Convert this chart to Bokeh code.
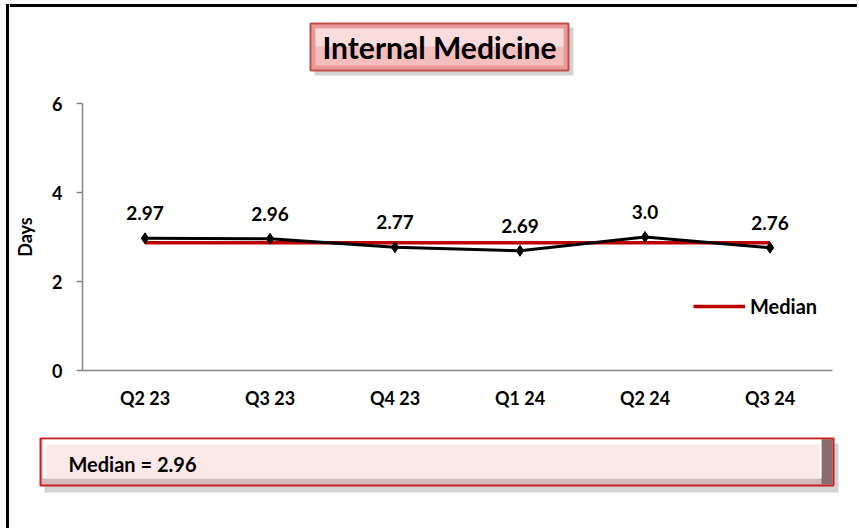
from bokeh.plotting import figure
from bokeh.layouts import row, column
from bokeh.models import (ColumnDataSource, LabelSet, Label, BoxAnnotation, Legend,
                          LegendItem, FixedTicker, Range1d)
from bokeh.core.properties import value
from bokeh.embed import file_html
from bokeh.resources import INLINE

quarters = ["Q2 23", "Q3 23", "Q4 23", "Q1 24", "Q2 24", "Q3 24"]
days = [2.97, 2.96, 2.77, 2.69, 3.0, 2.76]
day_labels = ["2.97", "2.96", "2.77", "2.69", "3.0", "2.76"]
median_line = [2.87, 2.87, 2.87, 2.87, 2.87, 2.87]
y_ticks = [0, 2, 4, 6]
title_text = "Internal Medicine"
median_text = "Median = 2.96"

FONT = "Lato"
W = 848


def blank(width, height):
    f = figure(width=width, height=height, x_range=Range1d(0, 1), y_range=Range1d(0, 1),
               output_backend="svg", toolbar_location=None, min_border=0,
               frame_align=False)
    f.axis.visible = False
    f.grid.visible = False
    f.outline_line_color = None
    f.background_fill_color = "white"
    f.border_fill_color = "white"
    return f


def sbox(left, right, top, bottom, **kw):
    # screen units: relative to the frame, x from its left, y up from its bottom
    kw.setdefault("line_alpha", 1)
    return BoxAnnotation(left=left, right=right, top=top, bottom=bottom,
                         left_units="screen", right_units="screen",
                         top_units="screen", bottom_units="screen", **kw)


# ---- left strip carrying the outer border line
strip = blank(9, 528)
strip.add_layout(sbox(5.5, 8.5, 524.5, 0, fill_color="black", fill_alpha=1, line_color=None))

# ---- title panel
tfig = blank(W, 90)
tfig.add_layout(sbox(0, W, 86.5, 83.5, fill_color="black", fill_alpha=1, line_color=None))
tfig.add_layout(sbox(305, 564, 63, 15, fill_color="#a8a8a8", fill_alpha=0.5, line_color=None))
tfig.add_layout(sbox(301, 559, 67, 20, fill_color="#E89A9A", fill_alpha=1,
                     line_color="#C0504D", line_width=2))
tfig.add_layout(sbox(306, 554, 62, 25, fill_color="#F4BEBE", fill_alpha=1, line_color=None))
tfig.add_layout(sbox(306, 554, 62, 44, fill_color="#FADCDC", fill_alpha=1, line_color=None))
tfig.add_layout(Label(x=430, y=44, x_units="screen", y_units="screen", text=title_text,
                      text_font=FONT, text_font_style="bold", text_font_size="30px",
                      text_align="center", text_baseline="middle", text_color="black"))

# ---- main chart
src = ColumnDataSource(dict(q=quarters, d=days, lab=day_labels, m=median_line))

p = figure(x_range=quarters, y_range=Range1d(0, 6), width=W, height=325,
           output_backend="svg", toolbar_location=None,
           min_border_left=73, min_border_right=25, min_border_top=13,
           min_border_bottom=45, frame_align=False)
p.outline_line_color = None
p.xgrid.grid_line_color = None
p.ygrid.grid_line_color = None
p.background_fill_color = "white"
p.border_fill_color = "white"

p.yaxis.ticker = FixedTicker(ticks=y_ticks)
p.yaxis.minor_tick_line_color = None
p.yaxis.major_tick_out = 6
p.yaxis.major_tick_in = 0
p.yaxis.axis_line_color = "#868686"
p.yaxis.axis_line_width = 1.5
p.yaxis.major_tick_line_color = "#868686"
p.yaxis.major_tick_line_width = 1.5
p.yaxis.major_label_standoff = 14
p.yaxis.major_label_text_font = FONT
p.yaxis.major_label_text_font_style = "bold"
p.yaxis.major_label_text_font_size = "18px"
p.yaxis.major_label_text_color = "black"
p.yaxis.axis_label = "Days"
p.yaxis.axis_label_text_font = FONT
p.yaxis.axis_label_text_font_style = "bold"
p.yaxis.axis_label_text_font_size = "18px"
p.yaxis.axis_label_text_color = "black"
p.yaxis.axis_label_standoff = 13

p.xaxis.major_tick_line_color = None
p.xaxis.major_tick_out = 0
p.xaxis.major_tick_in = 0
p.xaxis.minor_tick_line_color = None
p.xaxis.axis_line_color = "#868686"
p.xaxis.axis_line_width = 1.5
p.xaxis.major_label_standoff = 16
p.xaxis.major_label_text_font = FONT
p.xaxis.major_label_text_font_style = "bold"
p.xaxis.major_label_text_font_size = "18px"
p.xaxis.major_label_text_color = "black"

med = p.line("q", "m", source=src, line_color="#C00000", line_width=3.5)
p.line("q", "d", source=src, line_color="black", line_width=3)
p.scatter("q", "d", source=src, marker="diamond", size=11, color="black")

p.add_layout(LabelSet(x="q", y="d", text="lab", source=src, y_offset=18,
                      text_align="center", text_baseline="bottom",
                      text_font=value(FONT), text_font_style="bold",
                      text_font_size="19px", text_color="black"))

legend = Legend(items=[LegendItem(label="Median", renderers=[med])],
                location=(611, 52), glyph_width=52, glyph_height=20,
                label_standoff=5, padding=0, margin=0, spacing=0,
                border_line_color=None, background_fill_alpha=0,
                label_text_font=FONT, label_text_font_style="bold",
                label_text_font_size="20px", label_text_color="black")
p.add_layout(legend)

# ---- median panel
bfig = blank(W, 113)
bfig.add_layout(sbox(35, 829, 85, 36, fill_color="#a8a8a8", fill_alpha=0.5, line_color=None))
bfig.add_layout(sbox(31, 824, 90, 43, fill_color="#D4BABA", fill_alpha=1,
                     line_color="#CC1F1F", line_width=2))
bfig.add_layout(sbox(812, 823, 89, 44, fill_color="#8A6A6A", fill_alpha=1, line_color=None))
bfig.add_layout(sbox(33, 812, 89, 50, fill_color="#FFFFFF", fill_alpha=1, line_color=None))
bfig.add_layout(sbox(36, 810, 84, 50, fill_color="#FDE8E8", fill_alpha=1, line_color=None))
bfig.add_layout(Label(x=59, y=65, x_units="screen", y_units="screen", text=median_text,
                      text_font=FONT, text_font_style="bold", text_font_size="20px",
                      text_align="left", text_baseline="middle", text_color="black"))

layout = row(strip, column(tfig, p, bfig, spacing=0), spacing=0)

open("out.html", "w").write(file_html(layout, INLINE))
